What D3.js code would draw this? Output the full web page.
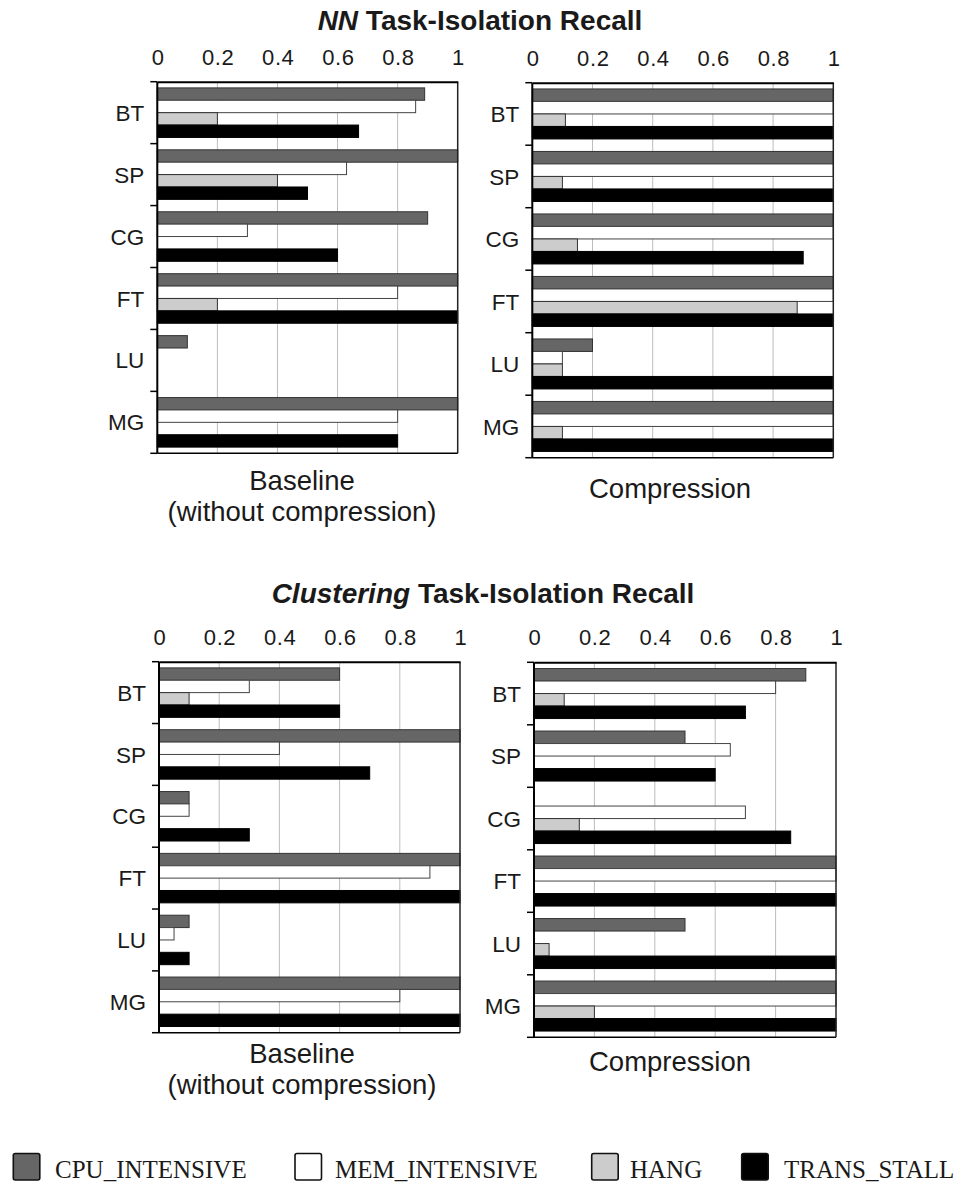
<!DOCTYPE html>
<html>
<head>
<meta charset="utf-8">
<script src="https://cdn.jsdelivr.net/npm/d3@7"></script>
<style>
  html, body { margin: 0; padding: 0; background: #fff; }
  svg { display: block; }
</style>
</head>
<body>
<script>
// Benchmarks (rows) and fault classes (bars within each row)
const categories = ["BT", "SP", "CG", "FT", "LU", "MG"];
const seriesNames = ["CPU_INTENSIVE", "MEM_INTENSIVE", "HANG", "TRANS_STALL"];
const tickValues = [0, 0.2, 0.4, 0.6, 0.8, 1];

// NN, baseline (without compression)
const nnBaseCpu   = [0.89, 1.00, 0.90, 1.00, 0.10, 1.00];
const nnBaseMem   = [0.86, 0.63, 0.30, 0.80, 0.00, 0.80];
const nnBaseHang  = [0.20, 0.40, 0.00, 0.20, 0.00, 0.00];
const nnBaseTrans = [0.67, 0.50, 0.60, 1.00, 0.00, 0.80];

// NN, compression
const nnCompCpu   = [1.00, 1.00, 1.00, 1.00, 0.20, 1.00];
const nnCompMem   = [1.00, 1.00, 1.00, 1.00, 0.10, 1.00];
const nnCompHang  = [0.11, 0.10, 0.15, 0.88, 0.10, 0.10];
const nnCompTrans = [1.00, 1.00, 0.90, 1.00, 1.00, 1.00];

// Clustering, baseline (without compression)
const clBaseCpu   = [0.60, 1.00, 0.10, 1.00, 0.10, 1.00];
const clBaseMem   = [0.30, 0.40, 0.10, 0.90, 0.05, 0.80];
const clBaseHang  = [0.10, 0.00, 0.00, 0.00, 0.00, 0.00];
const clBaseTrans = [0.60, 0.70, 0.30, 1.00, 0.10, 1.00];

// Clustering, compression
const clCompCpu   = [0.90, 0.50, 0.00, 1.00, 0.50, 1.00];
const clCompMem   = [0.80, 0.65, 0.70, 1.00, 0.00, 1.00];
const clCompHang  = [0.10, 0.00, 0.15, 0.00, 0.05, 0.20];
const clCompTrans = [0.70, 0.60, 0.85, 1.00, 1.00, 1.00];

const fills   = { CPU_INTENSIVE: "#666666", MEM_INTENSIVE: "#ffffff", HANG: "#cccccc", TRANS_STALL: "#000000" };
const strokes = { CPU_INTENSIVE: "#333333", MEM_INTENSIVE: "#444444", HANG: "#333333", TRANS_STALL: "#000000" };

const W = 956, H = 1183;
const svg = d3.select("body").append("svg").attr("width", W).attr("height", H);

const SANS = "'Liberation Sans', Arial, sans-serif";
const SERIF = "'Liberation Serif', 'Times New Roman', serif";

// Section titles
function title(x, y, italicPart, rest) {
  const t = svg.append("text")
    .attr("x", x).attr("y", y)
    .attr("text-anchor", "middle")
    .attr("font-family", SANS).attr("font-size", 28).attr("font-weight", "bold")
    .attr("fill", "#1a1a1a");
  t.append("tspan").attr("font-style", "italic").text(italicPart);
  t.append("tspan").text(" " + rest);
}
title(480, 30, "NN", "Task-Isolation Recall");
title(483, 603, "Clustering", "Task-Isolation Recall");

const panels = [
  { x: 157.3, y: 81.7, w: 300.4, h: 371.6, values: [nnBaseCpu, nnBaseMem, nnBaseHang, nnBaseTrans],
    caption: ["Baseline", "(without compression)"], capX: 302, capY: [490, 521] },
  { x: 532.3, y: 82.7, w: 301, h: 375, values: [nnCompCpu, nnCompMem, nnCompHang, nnCompTrans],
    caption: ["Compression"], capX: 670, capY: [498] },
  { x: 159, y: 661.7, w: 301, h: 371, values: [clBaseCpu, clBaseMem, clBaseHang, clBaseTrans],
    caption: ["Baseline", "(without compression)"], capX: 302, capY: [1063, 1094] },
  { x: 534, y: 662.3, w: 302, h: 375, values: [clCompCpu, clCompMem, clCompHang, clCompTrans],
    caption: ["Compression"], capX: 670, capY: [1071] }
];

panels.forEach(p => {
  const g = svg.append("g").attr("transform", `translate(${p.x},${p.y})`);

  const x = d3.scaleLinear().domain([0, 1]).range([0, p.w]);
  const y0 = d3.scaleBand().domain(categories).range([0, p.h]).padding(0);
  const y1 = d3.scaleBand().domain(seriesNames)
    .range([y0.bandwidth() * 0.1, y0.bandwidth() * 0.9]).padding(0);

  // vertical gridlines
  g.append("g").selectAll("line")
    .data(tickValues.filter(v => v > 0 && v < 1))
    .join("line")
    .attr("x1", d => x(d)).attr("x2", d => x(d))
    .attr("y1", 0).attr("y2", p.h)
    .attr("stroke", "#bdbdbd").attr("stroke-width", 1);

  // bars
  const rows = [];
  categories.forEach((c, ci) => {
    seriesNames.forEach((s, si) => {
      const v = p.values[si][ci];
      if (v > 0) rows.push({ cat: c, series: s, value: v });
    });
  });
  g.append("g").selectAll("rect")
    .data(rows)
    .join("rect")
    .attr("x", 0)
    .attr("y", d => y0(d.cat) + y1(d.series))
    .attr("width", d => x(d.value))
    .attr("height", y1.bandwidth())
    .attr("fill", d => fills[d.series])
    .attr("stroke", d => strokes[d.series])
    .attr("stroke-width", 1);

  // frame: right and bottom edges
  g.append("line").attr("x1", p.w).attr("x2", p.w).attr("y1", 0).attr("y2", p.h)
    .attr("stroke", "#222").attr("stroke-width", 1.5);
  g.append("line").attr("x1", 0).attr("x2", p.w).attr("y1", p.h).attr("y2", p.h)
    .attr("stroke", "#000").attr("stroke-width", 1.5);

  // top value axis
  const xAxis = d3.axisTop(x).tickValues(tickValues).tickSize(0).tickPadding(17)
    .tickFormat(d => d3.format("")(d));
  const ax = g.append("g").call(xAxis);
  ax.select(".domain").attr("stroke", "#000").attr("stroke-width", 2);
  ax.selectAll("text")
    .attr("font-family", SANS).attr("font-size", 22).attr("fill", "#1a1a1a")
    .attr("letter-spacing", "0.6px").attr("dx", "0.3px");

  // left category axis: ticks at band boundaries, labels at band centres
  g.append("line").attr("x1", 0).attr("x2", 0).attr("y1", 0).attr("y2", p.h)
    .attr("stroke", "#000").attr("stroke-width", 2);
  const bounds = categories.map(c => y0(c)).concat([p.h]);
  g.append("g").selectAll("line")
    .data(bounds)
    .join("line")
    .attr("x1", -7).attr("x2", 0)
    .attr("y1", d => d).attr("y2", d => d)
    .attr("stroke", "#000").attr("stroke-width", 1.5);
  g.append("g").selectAll("text")
    .data(categories)
    .join("text")
    .attr("x", -13)
    .attr("y", d => y0(d) + y0.bandwidth() / 2)
    .attr("dy", "0.36em")
    .attr("text-anchor", "end")
    .attr("font-family", SANS).attr("font-size", 22.5).attr("fill", "#1a1a1a")
    .text(d => d);

  // caption under the panel
  p.caption.forEach((line, i) => {
    svg.append("text")
      .attr("x", p.capX).attr("y", p.capY[i])
      .attr("text-anchor", "middle")
      .attr("font-family", SANS).attr("font-size", 27.5).attr("fill", "#1a1a1a")
      .text(line);
  });
});

// Legend
const legendBoxX = [13.3, 295, 591.7, 741.7];
const legendTextX = [55, 335, 630, 784];
const lg = svg.append("g");
seriesNames.forEach((s, i) => {
  lg.append("rect")
    .attr("x", legendBoxX[i]).attr("y", 1153.5)
    .attr("width", 26.5).attr("height", 26.5).attr("rx", 2)
    .attr("fill", fills[s]).attr("stroke", "#111").attr("stroke-width", 1.6);
  lg.append("text")
    .attr("x", legendTextX[i]).attr("y", 1178)
    .attr("font-family", SERIF).attr("font-size", 25).attr("fill", "#1a1a1a")
    .text(s);
});
</script>
</body>
</html>
